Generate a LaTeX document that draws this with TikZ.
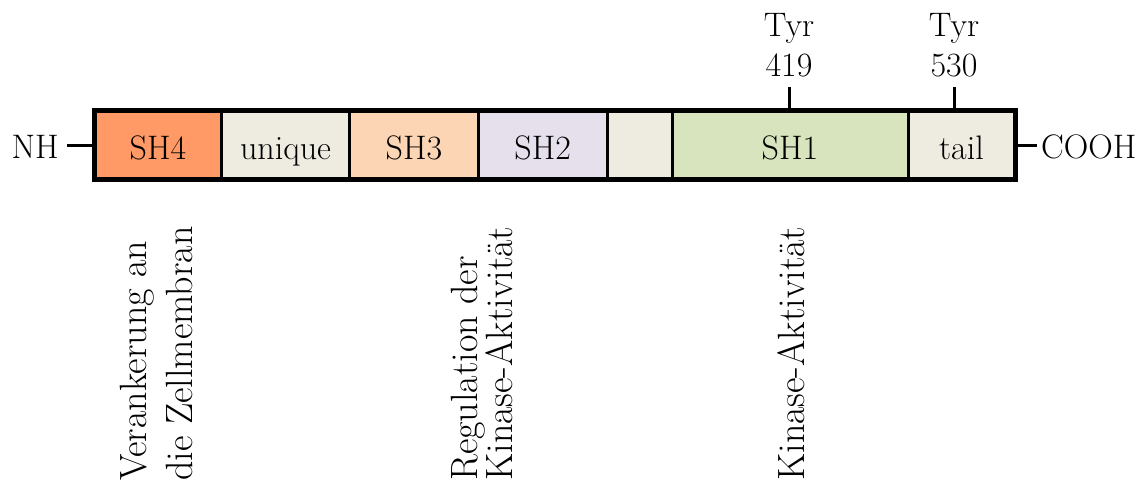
\documentclass[tikz,border=0pt]{standalone}
\usepackage{fontspec}
\definecolor{csh4}{HTML}{FF9966}
\definecolor{cbeige}{HTML}{EEECE1}
\definecolor{csh3}{HTML}{FCD5B5}
\definecolor{csh2}{HTML}{E6E0EC}
\definecolor{csh1}{HTML}{D7E4BD}
\tikzset{
  big/.style={font=\fontsize{34}{40}\selectfont},
  cell/.style={big, draw, line width=3pt, inner sep=0pt, outer sep=0pt,
    minimum height=69pt, text height=28pt, text depth=0pt},
  vlabel/.style={rotate=90, anchor=west, align=left, inner sep=0pt},
  tick/.style={line width=3pt},
}
\begin{document}
\begin{tikzpicture}[x=1pt,y=-1pt]
\useasboundingbox (0,0) rectangle (1146,482);
% cells (boundaries 94.5,221.5,349.5,478.5,607,672,908,1015; y 110.5..179.5)
\node[cell, fill=csh4, minimum width=127pt] (sh4) at (158,145) {SH4};
\node[cell, fill=cbeige, minimum width=128pt] (unique) at (285.5,145) {unique};
\node[cell, fill=csh3, minimum width=129pt] (sh3) at (414,145) {SH3};
\node[cell, fill=csh2, minimum width=128.5pt] (sh2) at (542.75,145) {SH2};
\node[cell, fill=cbeige, minimum width=65pt] (blank) at (639.5,145) {};
\node[cell, fill=csh1, minimum width=236pt] (sh1) at (790,145) {SH1};
\node[cell, fill=cbeige, minimum width=107pt] (tail) at (961.5,145) {tail};
% outer frame
\node[draw, line width=5pt, inner sep=0pt, outer sep=0pt,
  minimum width=920.5pt, minimum height=69pt] (bar) at (554.75,145) {};
% termini
\node[big, anchor=base east, inner sep=0pt] (nh) at (59,158) {NH};
\node[big, anchor=base west, inner sep=0pt] (cooh) at (1041,158) {COOH};
\draw[tick] ([xshift=8pt]nh.east |- bar.west) -- (bar.west);
\draw[tick] (bar.east) -- ([xshift=-4pt]cooh.west |- bar.east);
% tyrosines
\node[big, align=center, anchor=south, inner sep=0pt] (tyr419) at (789,77) {Tyr\\419};
\node[big, align=center, anchor=south, inner sep=0pt] (tyr530) at (954,77) {Tyr\\530};
\draw[tick] ([yshift=-10pt]tyr419.south) -- (tyr419.south |- bar.north);
\draw[tick] ([yshift=-10pt]tyr530.south) -- (tyr530.south |- bar.north);
% functional annotations
\node[vlabel, font=\fontsize{38}{46}\selectfont] (anker) at (156,481) {Verankerung an\\die Zellmembran};
\node[vlabel, font=\fontsize{38}{34}\selectfont] (regul) at (482,481) {Regulation der\\Kinase-Aktivität};
\node[vlabel, font=\fontsize{38}{46}\selectfont] (kinase) at (791,481) {Kinase-Aktivität};
\end{tikzpicture}
\end{document}
